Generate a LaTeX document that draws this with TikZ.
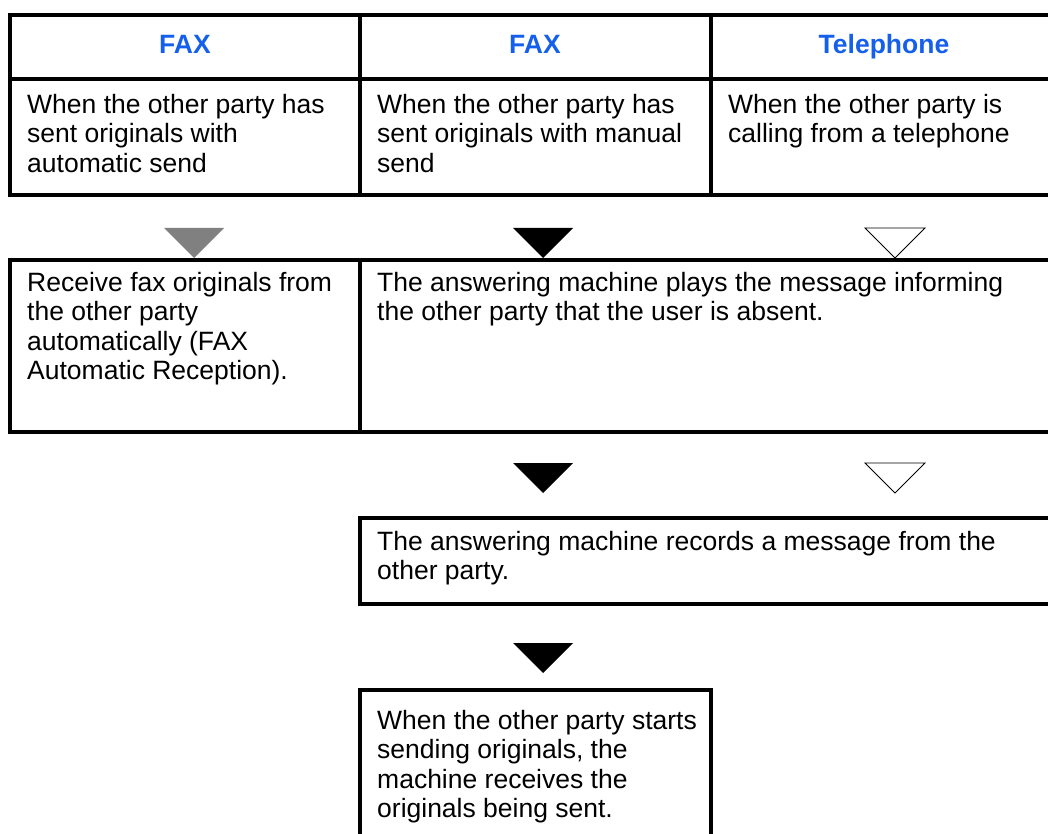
\documentclass[tikz,border=0pt]{standalone}
\usepackage{fontspec}
\setmainfont{Liberation Sans}
\usetikzlibrary{positioning}

\definecolor{faxblue}{RGB}{20,95,235}
\definecolor{trigray}{RGB}{128,128,128}

\begin{document}
\begin{tikzpicture}[x=1pt, y=-1pt,
    frame/.style={line width=3.2pt},
    txt/.style={anchor=north west, inner sep=0pt, align=left,
        font=\fontsize{26.5}{29.5}\selectfont},
    hdr/.style={anchor=base, inner sep=0pt, text=faxblue,
        font=\fontsize{26.5}{29.5}\selectfont\bfseries}]
    \useasboundingbox (0,0) rectangle (1048,834);
    \clip (0,0) rectangle (1048,834);

    % down triangle, 60 wide and 30 high, hanging from its top middle
    \def\downtri#1#2{(#1) ++(-30,0) -- ++(60,0) -- ++(-30,30) -- cycle}

    % top table
    \draw[frame] (10,15) rectangle (1060,195);
    \draw[frame] (10,79) -- (1060,79);
    \draw[frame] (360,15) -- (360,195);
    \draw[frame] (711,15) -- (711,195);

    \node[hdr] (hdA) at (185,54) {FAX};
    \node[hdr] (hdB) at (535,54) {FAX};
    \node[hdr] (hdC) at (884,54) {Telephone};

    \node[txt] (condA) at (27,94) {When the other party has\\sent originals with\\automatic send};
    \node[txt] (condB) at (377,94) {When the other party has\\sent originals with manual\\send};
    \node[txt] (condC) at (728,94) {When the other party is\\calling from a telephone};

    % first row of triangles
    \coordinate (tA1) at (194,228);
    \coordinate (tB1) at (543,228);
    \coordinate (tC1) at (895,228);
    \fill[trigray] \downtri{tA1}{};
    \fill[black] \downtri{tB1}{};
    \draw[line width=0.8pt, fill=white] \downtri{tC1}{};

    % second row
    \draw[frame] (10,260) rectangle (1060,432);
    \draw[frame] (360,260) -- (360,432);
    \node[txt] (recvFax) at (27,272) {Receive fax originals from\\the other party\\automatically (FAX\\Automatic Reception).};
    \node[txt] (playMsg) at (377,272) {The answering machine plays the message informing\\the other party that the user is absent.};

    \coordinate (tB2) at (543,463);
    \coordinate (tC2) at (895,463);
    \fill[black] \downtri{tB2}{};
    \draw[line width=0.8pt, fill=white] \downtri{tC2}{};

    % third row
    \draw[frame] (360,518) rectangle (1060,604);
    \node[txt] (recMsg) at (377,531) {The answering machine records a message from the\\other party.};

    \coordinate (tB3) at (543,643);
    \fill[black] \downtri{tB3}{};

    % last box, runs off the page
    \draw[frame] (360,850) -- (360,690) -- (711,690) -- (711,850);
    \node[txt] (recvOrig) at (377,710) {When the other party starts\\sending originals, the\\machine receives the\\originals being sent.};
\end{tikzpicture}
\end{document}
